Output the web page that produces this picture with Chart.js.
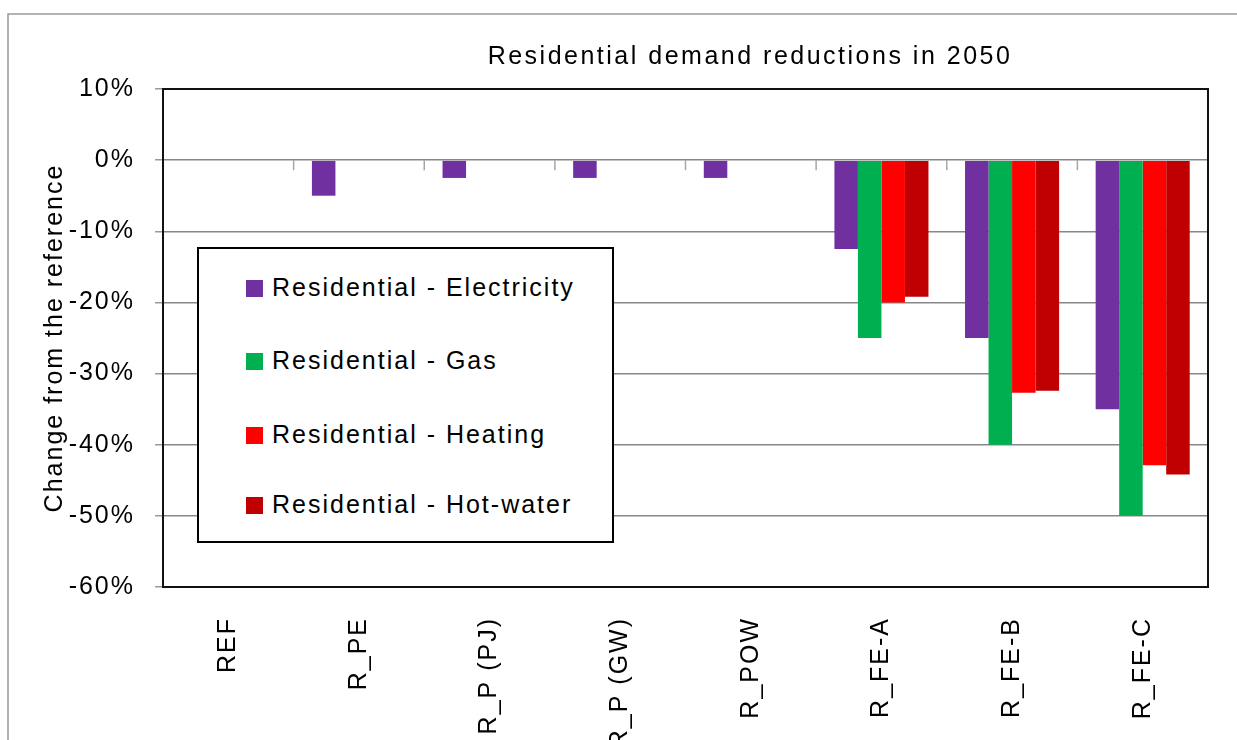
<!DOCTYPE html>
<html>
<head>
<meta charset="utf-8">
<script src="https://cdn.jsdelivr.net/npm/chart.js@4/dist/chart.umd.min.js"></script>
<style>
  html, body { margin: 0; padding: 0; background: #fff; }
  #wrap { position: relative; width: 1237px; height: 740px; overflow: hidden; }
  #legend {
    position: absolute; left: 197px; top: 247px; width: 413px; height: 292px;
    border: 2px solid #000; background: #fff;
    font-family: "Liberation Sans", Arial, sans-serif; font-size: 25px; letter-spacing: 2px; color: #000;
  }
  #legend .item { position: absolute; left: 47px; height: 30px; line-height: 30px; white-space: nowrap; }
  #legend .box { display: inline-block; width: 17px; height: 17px; margin-right: 9px; vertical-align: -1px; }
</style>
</head>
<body>
<div id="wrap">
  <canvas id="demandChart" width="1237" height="740"></canvas>
  <div id="legend"></div>
</div>
<script>
// scenario names and demand change (%) in 2050
const scenarios = ['REF', 'R_PE', 'R_P (PJ)', 'R_P (GW)', 'R_POW', 'R_FE-A', 'R_FE-B', 'R_FE-C'];
const electricity = [null, -5, -2.5, -2.5, -2.5, -12.5, -25, -35];
const gas = [null, null, null, null, null, -25, -40, -50];
const heating = [null, null, null, null, null, -20, -32.7, -42.9];
const hotWater = [null, null, null, null, null, -19.2, -32.4, -44.2];
const yTicks = [10, 0, -10, -20, -30, -40, -50, -60];

const seriesNames = ['Residential - Electricity', 'Residential - Gas', 'Residential - Heating', 'Residential - Hot-water'];
const seriesColors = ['#7030A0', '#00B050', '#FF0000', '#C00000'];

const FONT = '"Liberation Sans", Arial, sans-serif';

// frame, title, plot border and the small category ticks on the zero line
const excelLook = {
  id: 'excelLook',
  beforeDraw(chart) {
    const ctx = chart.ctx;
    ctx.save();
    ctx.strokeStyle = '#9a9a9a';
    ctx.lineWidth = 1.5;
    ctx.beginPath();
    ctx.moveTo(8, chart.height);
    ctx.lineTo(8, 14);
    ctx.lineTo(chart.width, 14);
    ctx.stroke();

    ctx.fillStyle = '#000';
    ctx.font = '25px ' + FONT;
    ctx.letterSpacing = '2.5px';
    ctx.textAlign = 'center';
    ctx.textBaseline = 'middle';
    ctx.fillText('Residential demand reductions in 2050', 750, 57);
    ctx.restore();
    ctx.letterSpacing = '2px';
  },
  afterDraw(chart) {
    const ctx = chart.ctx;
    const a = chart.chartArea;
    const x = chart.scales.x;
    const y0 = chart.scales.y.getPixelForValue(0);
    ctx.save();
    ctx.strokeStyle = '#a6a6a6';
    ctx.lineWidth = 1.5;
    const n = scenarios.length;
    for (let i = 1; i <= n; i++) {
      const px = i < n ? (x.getPixelForValue(i - 1) + x.getPixelForValue(i)) / 2 : a.right;
      ctx.beginPath();
      ctx.moveTo(px, y0);
      ctx.lineTo(px, y0 + 10);
      ctx.stroke();
    }
    ctx.strokeStyle = '#111';
    ctx.lineWidth = 2;
    ctx.strokeRect(a.left, a.top, a.right - a.left, a.bottom - a.top);
    ctx.restore();
  }
};

const datasets = [electricity, gas, heating, hotWater].map((values, i) => ({
  label: seriesNames[i],
  data: values,
  backgroundColor: seriesColors[i],
  borderWidth: 0,
  categoryPercentage: 0.72,
  barPercentage: 1.0
}));

new Chart(document.getElementById('demandChart').getContext('2d'), {
  type: 'bar',
  data: { labels: scenarios, datasets: datasets },
  options: {
    responsive: false,
    animation: false,
    layout: { padding: { top: 89, right: 29, bottom: 0, left: 0 } },
    plugins: {
      legend: { display: false },
      title: { display: false },
      tooltip: { enabled: false }
    },
    scales: {
      x: {
        grid: { display: false, drawTicks: false },
        border: { display: false },
        ticks: {
          color: '#000',
          font: { family: FONT, size: 25 },
          minRotation: 90,
          maxRotation: 90,
          autoSkip: false,
          padding: 30
        },
        afterFit(scale) { scale.height = 153; }
      },
      y: {
        min: -60,
        max: 10,
        afterBuildTicks(scale) { scale.ticks = yTicks.map(v => ({ value: v })); },
        ticks: {
          color: '#000',
          font: { family: FONT, size: 25 },
          padding: 20,
          callback: v => v + '%'
        },
        grid: { color: '#878787', lineWidth: 1.5, tickLength: 8, tickColor: '#9a9a9a' },
        border: { display: false },
        title: {
          display: true,
          text: 'Change from the reference',
          color: '#000',
          font: { family: FONT, size: 25 },
          padding: { top: 40, bottom: 0 }
        },
        afterFit(scale) { scale.width = 163; }
      }
    }
  },
  plugins: [excelLook]
});

// legend box inside the plot, built from the series
const legendEl = document.getElementById('legend');
const rowTops = [23, 96, 170, 240];
seriesNames.forEach((name, i) => {
  const item = document.createElement('div');
  item.className = 'item';
  item.style.top = rowTops[i] + 'px';
  item.innerHTML = '<span class="box" style="background:' + seriesColors[i] + '"></span>' + name;
  legendEl.appendChild(item);
});
</script>
</body>
</html>
